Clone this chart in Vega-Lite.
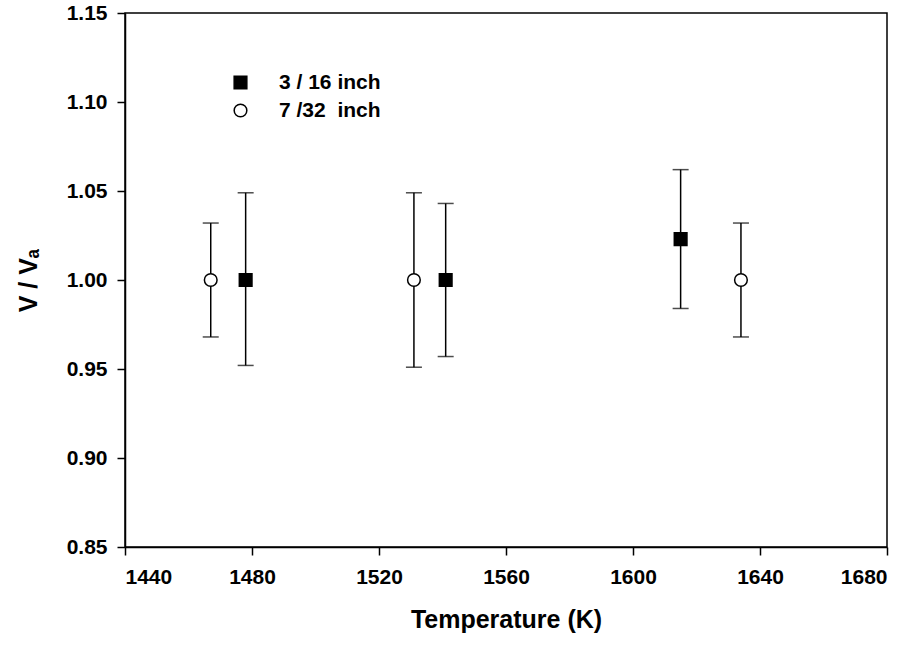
{
  "$schema": "https://vega.github.io/schema/vega-lite/v6.json",
  "width": 762,
  "height": 534,
  "autosize": {"type": "none"},
  "padding": {"left": 125, "top": 13, "right": 29, "bottom": 98},
  "background": "white",
  "config": {
    "view": {"stroke": "black", "strokeWidth": 1.5},
    "font": "Liberation Sans",
    "axis": {
      "grid": false,
      "domainColor": "black",
      "domainWidth": 1.5,
      "tickColor": "black",
      "tickWidth": 1.5,
      "tickSize": 8,
      "labelFont": "Liberation Sans",
      "labelFontWeight": "bold",
      "labelFontSize": 21,
      "labelColor": "black",
      "titleFont": "Liberation Sans",
      "titleFontWeight": "bold",
      "titleFontSize": 25,
      "titleColor": "black"
    },
    "legend": {
      "labelFont": "Liberation Sans",
      "labelFontWeight": "bold",
      "labelFontSize": 21,
      "labelColor": "black"
    }
  },
  "data": {
    "values": [
      {"series": "3 / 16 inch", "T": 1478, "v": 1.0, "lo": 0.952, "hi": 1.049},
      {"series": "3 / 16 inch", "T": 1541, "v": 1.0, "lo": 0.957, "hi": 1.043},
      {"series": "3 / 16 inch", "T": 1615, "v": 1.023, "lo": 0.984, "hi": 1.062},
      {"series": "7 /32\u00a0 inch", "T": 1467, "v": 1.0, "lo": 0.968, "hi": 1.032},
      {"series": "7 /32\u00a0 inch", "T": 1531, "v": 1.0, "lo": 0.951, "hi": 1.049},
      {"series": "7 /32\u00a0 inch", "T": 1634, "v": 1.0, "lo": 0.968, "hi": 1.032}
    ]
  },
  "encoding": {
    "x": {
      "field": "T",
      "type": "quantitative",
      "scale": {"domain": [1440, 1680], "nice": false, "zero": false},
      "axis": {"values": [1440, 1480, 1520, 1560, 1600, 1640, 1680], "format": "d", "title": "Temperature (K)", "labelPadding": 11, "titlePadding": 20}
    }
  },
  "layer": [
    {
      "mark": {"type": "rule", "color": "black", "strokeWidth": 1.5},
      "encoding": {
        "y": {
          "field": "lo",
          "type": "quantitative",
          "scale": {"domain": [0.85, 1.15], "nice": false, "zero": false},
          "axis": {"values": [0.85, 0.9, 0.95, 1.0, 1.05, 1.1, 1.15], "format": ".2f", "title": "V / Vₐ", "labelPadding": 10, "titlePadding": 25}
        },
        "y2": {"field": "hi"}
      }
    },
    {
      "mark": {"type": "tick", "orient": "horizontal", "color": "black", "size": 16, "thickness": 1.5},
      "encoding": {"y": {"field": "lo", "type": "quantitative"}}
    },
    {
      "mark": {"type": "tick", "orient": "horizontal", "color": "black", "size": 16, "thickness": 1.5},
      "encoding": {"y": {"field": "hi", "type": "quantitative"}}
    },
    {
      "mark": {"type": "point", "stroke": "black", "strokeWidth": 1.5, "opacity": 1, "filled": false},
      "encoding": {
        "y": {"field": "v", "type": "quantitative"},
        "shape": {
          "field": "series",
          "type": "nominal",
          "scale": {"domain": ["3 / 16 inch", "7 /32\u00a0 inch"], "range": ["square", "circle"]},
          "legend": {
            "title": null,
            "orient": "none",
            "legendX": 105,
            "legendY": 59,
            "padding": 0,
            "labelOffset": 28,
            "rowPadding": 6,
            "symbolSize": 160,
            "encode": {"symbols": {"update": {"stroke": {"value": "black"}, "strokeWidth": {"value": 1.5}, "opacity": {"value": 1}}}}
          }
        },
        "fill": {
          "field": "series",
          "type": "nominal",
          "scale": {"domain": ["3 / 16 inch", "7 /32\u00a0 inch"], "range": ["black", "white"]},
          "legend": {
            "title": null,
            "orient": "none",
            "legendX": 105,
            "legendY": 59,
            "padding": 0,
            "labelOffset": 28,
            "rowPadding": 6,
            "symbolSize": 160,
            "encode": {"symbols": {"update": {"stroke": {"value": "black"}, "strokeWidth": {"value": 1.5}, "opacity": {"value": 1}}}}
          }
        },
        "size": {"value": 160}
      }
    }
  ]
}
